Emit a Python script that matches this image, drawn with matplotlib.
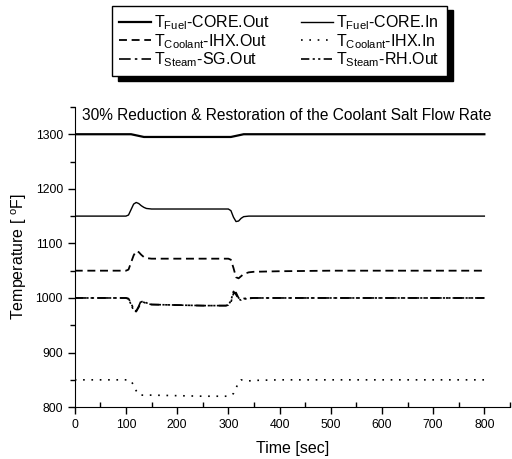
import matplotlib
matplotlib.use("Agg")
import matplotlib.pyplot as plt
from matplotlib.ticker import MultipleLocator

plt.rcParams['font.family'] = ['Liberation Sans', 'DejaVu Sans']
plt.rcParams['mathtext.fontset'] = 'custom'
plt.rcParams['mathtext.rm'] = 'Liberation Sans'
plt.rcParams['mathtext.it'] = 'Liberation Sans'

# ---- data ----
time = [0, 100, 105, 110, 115, 120, 125, 130, 135, 140, 150, 200, 250, 295,
        300, 305, 310, 315, 320, 325, 330, 340, 350, 400, 500, 600, 700, 800]
fuel_core_out = [1300, 1300, 1300, 1300, 1299, 1298, 1297, 1296, 1295, 1295, 1295, 1295, 1295, 1295,
                 1295, 1295, 1296, 1297, 1298, 1299, 1300, 1300, 1300, 1300, 1300, 1300, 1300, 1300]
fuel_core_in = [1150, 1150, 1152, 1162, 1172, 1175, 1173, 1169, 1166, 1164, 1163, 1163, 1163, 1163,
                1163, 1160, 1148, 1140, 1141, 1146, 1149, 1150, 1150, 1150, 1150, 1150, 1150, 1150]
coolant_ihx_out = [1050, 1050, 1052, 1065, 1078, 1086, 1084, 1079, 1075, 1073, 1072, 1072, 1072, 1072,
                   1072, 1070, 1055, 1038, 1036, 1040, 1044, 1047, 1048, 1049, 1050, 1050, 1050, 1050]
coolant_ihx_in = [850, 850, 850, 848, 840, 830, 823, 822, 822, 822, 822, 821, 820, 820,
                  820, 821, 825, 835, 845, 850, 849, 848, 849, 850, 850, 850, 850, 850]
steam_sg_out = [1000, 1000, 999, 990, 980, 976, 985, 996, 992, 990, 988, 987, 986, 986,
                987, 992, 1008, 1010, 1000, 998, 999, 1000, 1000, 1000, 1000, 1000, 1000, 1000]
steam_rh_out = [1000, 1000, 998, 988, 977, 975, 983, 993, 994, 991, 988, 987, 986, 986,
                987, 995, 1012, 1006, 998, 996, 998, 999, 1000, 1000, 1000, 1000, 1000, 1000]

labels = [r'T$_{\mathrm{Fuel}}$-CORE.Out', r'T$_{\mathrm{Coolant}}$-IHX.Out', r'T$_{\mathrm{Steam}}$-SG.Out',
          r'T$_{\mathrm{Fuel}}$-CORE.In', r'T$_{\mathrm{Coolant}}$-IHX.In', r'T$_{\mathrm{Steam}}$-RH.Out']
title = '30% Reduction & Restoration of the Coolant Salt Flow Rate'

fig = plt.figure(figsize=(5.12, 4.59), dpi=100)
ax = fig.add_axes([0.146, 0.113, 0.85, 0.654])

h1, = ax.plot(time, fuel_core_out, color='k', lw=1.6, ls='-')
h2, = ax.plot(time, coolant_ihx_out, color='k', lw=1.3, ls=(0, (4.4, 2.6)))
h3, = ax.plot(time, steam_sg_out, color='k', lw=1.2, ls=(0, (7, 2.5, 1.5, 2.5)))
h4, = ax.plot(time, fuel_core_in, color='k', lw=1.0, ls='-')
h5, = ax.plot(time, coolant_ihx_in, color='k', lw=1.2, ls=(0, (1, 4)))
h6, = ax.plot(time, steam_rh_out, color='k', lw=1.2, ls=(0, (5, 2, 1.3, 2, 1.3, 2)))

ax.set_xlim(0, 850)
ax.set_ylim(800, 1350)
ax.xaxis.set_major_locator(MultipleLocator(100))
ax.xaxis.set_minor_locator(MultipleLocator(50))
ax.yaxis.set_major_locator(MultipleLocator(100))
ax.yaxis.set_minor_locator(MultipleLocator(50))
ax.spines['top'].set_visible(False)
ax.spines['right'].set_visible(False)
ax.tick_params(which='major', direction='out', length=5, width=1, labelsize=8.8, colors='k')
ax.tick_params(axis='y', which='minor', direction='out', length=3.5, width=1)
ax.tick_params(axis='x', which='minor', direction='in', length=3.5, width=1)
ax.set_xticks([0, 100, 200, 300, 400, 500, 600, 700, 800])
ax.set_xlabel('Time [sec]', fontsize=11.5, labelpad=7)
ax.set_ylabel(r'Temperature [ $^{\mathrm{o}}$F]', fontsize=11.5, labelpad=5)
ax.text(0.017, 0.995, title, transform=ax.transAxes, fontsize=11.2, va='top', ha='left')

leg = fig.legend([h1, h2, h3, h4, h5, h6], labels, ncol=2, loc='upper left',
                 bbox_to_anchor=(0.219, 0.84, 0.654, 0.147), mode='expand', borderaxespad=0,
                 fontsize=11.5, frameon=True, fancybox=False,
                 edgecolor='k', framealpha=1, handlelength=2.0, handletextpad=0.2,
                 columnspacing=0.6, labelspacing=0.0, borderpad=0.45,
                 shadow={'ox': 4, 'oy': -3, 'facecolor': 'k', 'edgecolor': 'k', 'alpha': 1})
leg.get_frame().set_linewidth(1.0)

fig.savefig('out.png', dpi=100)
